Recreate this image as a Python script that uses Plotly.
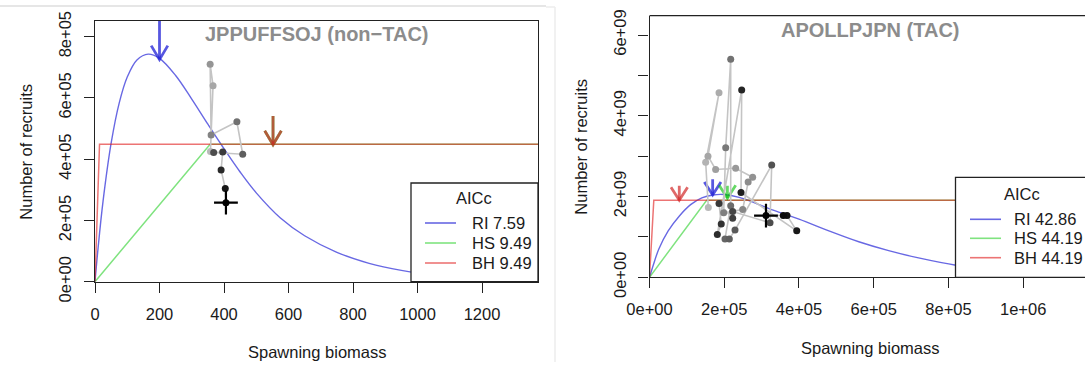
import plotly.graph_objects as go

# ---------------- data ----------------
# Left panel: JPPUFFSOJ (non-TAC)
left_ri_S = [0, 10, 25, 50, 75, 100, 130, 165, 200, 250, 300, 350, 400, 450, 500, 575, 650, 750, 850, 950, 1050, 1150]
left_ri_R = [0, 1.15e5, 2.63e5, 4.52e5, 5.83e5, 6.68e5, 7.24e5, 7.43e5, 7.29e5, 6.73e5, 5.96e5, 5.14e5,
             4.34e5, 3.58e5, 2.90e5, 2.08e5, 1.50e5, 9.6e4, 6.0e4, 3.7e4, 2.2e4, 1.3e4]
left_hs_S = [0, 357, 1374]
left_hs_R = [0, 4.49e5, 4.49e5]
left_bh_S = [0, 14, 1374]
left_bh_R = [0, 4.49e5, 4.49e5]
left_obs_S = [358, 366, 357, 360, 440, 458, 368, 396, 391, 404, 406]
left_obs_R = [4.25e5, 6.40e5, 7.10e5, 4.79e5, 5.22e5, 4.16e5, 4.22e5, 4.23e5, 3.65e5, 3.04e5, 2.58e5]
left_arrow_S = [200, 552, 552]
left_arrow_top = [8.7e5, 5.41e5, 5.41e5]
left_arrow_tip = [7.25e5, 4.47e5, 4.47e5]
left_arrow_model = ["RI", "HS", "BH"]
left_title = "JPPUFFSOJ (non\u2212TAC)"
left_aicc = ["RI 7.59", "HS 9.49", "BH 9.49"]
left_xticks = [0, 200, 400, 600, 800, 1000, 1200]
left_yticks = [0, 2e5, 4e5, 6e5, 8e5]
left_yticklabels = ["0e+00", "2e+05", "4e+05", "6e+05", "8e+05"]

# Right panel: APOLLPJPN (TAC)
right_ri_S = [0, 10e3, 25e3, 50e3, 80e3, 110e3, 140e3, 170e3, 200e3, 240e3, 280e3, 320e3, 400e3, 480e3,
              560e3, 640e3, 720e3, 820e3, 900e3, 1000e3, 1100e3]
right_ri_R = [0, 0.30e9, 0.70e9, 1.15e9, 1.52e9, 1.80e9, 1.97e9, 2.04e9, 2.05e9, 1.98e9, 1.85e9, 1.70e9,
              1.44e9, 1.15e9, 0.88e9, 0.66e9, 0.48e9, 0.30e9, 0.22e9, 0.15e9, 0.10e9]
right_hs_S = [0, 153e3, 1.2e6]
right_hs_R = [0, 1.91e9, 1.91e9]
right_bh_S = [0, 11.5e3, 1.2e6]
right_bh_R = [0, 1.907e9, 1.907e9]
right_obs_S = [157.4e3, 150.3e3, 186e3, 156.5e3, 177e3, 230.6e3, 276e3, 264e3, 249.4e3, 198.5e3,
               203.9e3, 217.3e3, 217.3e3, 202e3, 213.6e3, 228.8e3, 327e3, 322.5e3, 222.6e3, 222.6e3,
               186e3, 192e3, 181.5e3, 246.7e3, 244.9e3, 394e3, 368e3, 358e3, 311.7e3]
right_obs_R = [1.73e9, 2.85e9, 4.57e9, 3.00e9, 2.67e9, 2.70e9, 2.48e9, 2.36e9, 1.68e9, 1.60e9,
               3.21e9, 5.40e9, 1.77e9, 0.95e9, 0.95e9, 1.17e9, 2.78e9, 1.35e9, 1.63e9, 1.46e9,
               1.83e9, 1.32e9, 1.06e9, 4.64e9, 2.10e9, 1.15e9, 1.53e9, 1.53e9, 1.53e9]
right_arrow_S = [79.7e3, 169e3, 208.5e3]
right_arrow_top = [2.27e9, 2.43e9, 2.27e9]
right_arrow_tip = [1.91e9, 2.04e9, 1.96e9]
right_arrow_model = ["BH", "RI", "HS"]
right_title = "APOLLPJPN (TAC)"
right_aicc = ["RI 42.86", "HS 44.19", "BH 44.19"]
right_xticks = [0, 2e5, 4e5, 6e5, 8e5, 1e6]
right_xticklabels = ["0e+00", "2e+05", "4e+05", "6e+05", "8e+05", "1e+06"]
right_yticks = [0, 1e9, 2e9, 3e9, 4e9, 5e9, 6e9]
right_yticklabels = ["0e+00", "", "2e+09", "", "4e+09", "", "6e+09"]

# ---------------- style / layout ----------------
W, H = 1085, 365
FONT = "Liberation Sans, Arial, Helvetica, sans-serif"
TXT = "#1a1a1a"
AX = "#222222"
COL = {"RI": "rgba(40,40,215,0.70)", "HS": "rgba(0,200,0,0.50)", "BH": "rgba(225,30,30,0.62)"}
ARROWCOL = {"RI": "rgba(40,40,215,0.78)", "HS": "rgba(0,190,0,0.6)", "BH": "rgba(210,40,40,0.7)"}

# pixel boxes of the two plotting regions
L = dict(x0=95, x1=538, y0=20.7, y1=281.7, xmax=1373.6, ymax=8.52e5)
R = dict(x0=649.5, x1=1085, y0=15.7, y1=277.3, xmax=1.1654e6, ymax=6.48e9)


def px(x):
    return x / W


def py(y):
    return 1 - y / H


def gray(i, n):
    g = int(round(185 - 180 * i / (n - 1)))
    return f"rgb({g},{g},{g})"


fig = go.Figure()


def add_panel(xa, ya, box, ri, hs, bh, obs, arrows, head_w, head_l):
    fig.add_trace(go.Scatter(x=ri[0], y=ri[1], mode="lines", line=dict(color=COL["RI"], width=1.4, shape="spline"),
                             xaxis=xa, yaxis=ya, hoverinfo="skip"))
    fig.add_trace(go.Scatter(x=hs[0], y=hs[1], mode="lines", line=dict(color=COL["HS"], width=1.5),
                             xaxis=xa, yaxis=ya, hoverinfo="skip"))
    fig.add_trace(go.Scatter(x=bh[0], y=bh[1], mode="lines", line=dict(color=COL["BH"], width=1.5),
                             xaxis=xa, yaxis=ya, hoverinfo="skip"))
    # arrows
    ppx = (box["x1"] - box["x0"]) / box["xmax"]
    ppy = (box["y1"] - box["y0"]) / box["ymax"]
    for s, top, tip, m in zip(*arrows):
        dx = head_w / ppx
        dy = head_l / ppy
        fig.add_trace(go.Scatter(x=[s, s, None, s - dx, s, s + dx],
                                 y=[top, tip, None, tip + dy, tip, tip + dy],
                                 mode="lines", line=dict(color=ARROWCOL[m], width=2.8),
                                 xaxis=xa, yaxis=ya, hoverinfo="skip"))
    # observations
    S, Rv = obs
    n = len(S)
    fig.add_trace(go.Scatter(x=S, y=Rv, mode="lines", line=dict(color="#c4c4c4", width=1.6),
                             xaxis=xa, yaxis=ya, hoverinfo="skip"))
    fig.add_trace(go.Scatter(x=S, y=Rv, mode="markers",
                             marker=dict(size=7, color=[gray(i, n) for i in range(n)], line=dict(width=0)),
                             xaxis=xa, yaxis=ya))
    fig.add_trace(go.Scatter(x=[S[-1]], y=[Rv[-1]], mode="markers",
                             marker=dict(symbol="cross-thin", size=17, line=dict(color="black", width=2.2)),
                             xaxis=xa, yaxis=ya))


add_panel("x", "y", L, (left_ri_S, left_ri_R), (left_hs_S, left_hs_R), (left_bh_S, left_bh_R),
          (left_obs_S, left_obs_R), (left_arrow_S, left_arrow_top, left_arrow_tip, left_arrow_model), 8.3, 14)
add_panel("x2", "y2", R, (right_ri_S, right_ri_R), (right_hs_S, right_hs_R), (right_bh_S, right_bh_R),
          (right_obs_S, right_obs_R), (right_arrow_S, right_arrow_top, right_arrow_tip, right_arrow_model), 8.3, 13)

tickfont = dict(family=FONT, size=16.5, color=TXT)
common = dict(showgrid=False, zeroline=False, ticks="outside", ticklen=10, tickwidth=1.2, tickcolor=AX,
              showline=True, linecolor=AX, linewidth=1.3, tickfont=tickfont, automargin=False)

fig.update_layout(
    width=W, height=H, margin=dict(l=0, r=0, t=0, b=0, pad=0, autoexpand=False),
    paper_bgcolor="white", plot_bgcolor="white", showlegend=False,
    xaxis=dict(domain=[px(L["x0"]), px(L["x1"])], range=[0, L["xmax"]], tickvals=left_xticks,
               mirror=True, anchor="y", ticklabelstandoff=7, **common),
    yaxis=dict(domain=[py(L["y1"]), py(L["y0"])], range=[0, L["ymax"]], tickvals=left_yticks,
               ticktext=left_yticklabels, tickangle=-90, mirror=True, anchor="x", ticklabelstandoff=6, **common),
    xaxis2=dict(domain=[px(R["x0"]), 1.0], range=[0, R["xmax"]], tickvals=right_xticks,
                ticktext=right_xticklabels, anchor="y2", ticklabelstandoff=7, **common),
    yaxis2=dict(domain=[py(R["y1"]), py(R["y0"])], range=[0, R["ymax"]], tickvals=right_yticks,
                ticktext=right_yticklabels, tickangle=-90, anchor="x2", ticklabelstandoff=6, **common),
)

shapes = []
ann = []
# top border of the right panel (its right border lies outside the picture)
shapes.append(dict(type="line", xref="paper", yref="paper", x0=px(R["x0"]), x1=1.0, y0=py(R["y0"]), y1=py(R["y0"]),
                   line=dict(color=AX, width=1.3)))
# faint screenshot frame lines
shapes.append(dict(type="line", xref="paper", yref="paper", x0=0, x1=px(546), y0=py(6), y1=py(6),
                   line=dict(color="#e6e6e6", width=2)))
shapes.append(dict(type="line", xref="paper", yref="paper", x0=px(546), x1=px(555), y0=py(7), y1=py(7),
                   line=dict(color="#ececec", width=1.5)))
shapes.append(dict(type="line", xref="paper", yref="paper", x0=px(555), x1=px(555), y0=py(7), y1=py(362),
                   line=dict(color="#ececec", width=1.5)))


def legend_box(x0, x1, y0, y1, title_xy, line_x, text_x, rows, labels):
    shapes.append(dict(type="rect", xref="paper", yref="paper", x0=px(x0), x1=px(x1), y0=py(y1), y1=py(y0),
                       fillcolor="white", line=dict(color=AX, width=1.3), layer="above"))
    ann.append(dict(xref="paper", yref="paper", x=px(title_xy[0]), y=py(title_xy[1]), text="AICc",
                    showarrow=False, xanchor="center", yanchor="middle",
                    font=dict(family=FONT, size=16.5, color=TXT)))
    for yy, lab, m in zip(rows, labels, ["RI", "HS", "BH"]):
        shapes.append(dict(type="line", xref="paper", yref="paper", x0=px(line_x[0]), x1=px(line_x[1]),
                           y0=py(yy), y1=py(yy), line=dict(color=COL[m], width=1.6), layer="above"))
        ann.append(dict(xref="paper", yref="paper", x=px(text_x), y=py(yy), text=lab, showarrow=False,
                        xanchor="left", yanchor="middle", font=dict(family=FONT, size=16.5, color=TXT)))


legend_box(411, 538, 183, 281.7, (474, 198), (425, 456), 470, [223, 243, 263], left_aicc)
legend_box(955.5, 1092, 177.3, 277.3, (1022, 194), (970, 1001), 1012, [219.3, 238.3, 257.7], right_aicc)

# titles and axis titles
for t, (x, y) in [(left_title, (316.5, 33.5)), (right_title, (870.5, 29.5))]:
    ann.append(dict(xref="paper", yref="paper", x=px(x), y=py(y), text=f"<b>{t}</b>", showarrow=False,
                    xanchor="center", yanchor="middle", font=dict(family=FONT, size=20, color="#8c8c8c")))
for (x, y) in [(317, 351.7), (870.3, 347.7)]:
    ann.append(dict(xref="paper", yref="paper", x=px(x), y=py(y), text="Spawning biomass", showarrow=False,
                    xanchor="center", yanchor="middle", font=dict(family=FONT, size=16.5, color=TXT)))
for (x, y) in [(26, 151.7), (581, 146.7)]:
    ann.append(dict(xref="paper", yref="paper", x=px(x), y=py(y), text="Number of recruits", showarrow=False,
                    textangle=-90, xanchor="center", yanchor="middle", font=dict(family=FONT, size=16.5, color=TXT)))

fig.update_layout(shapes=shapes, annotations=ann)
fig.write_html("out.html")
